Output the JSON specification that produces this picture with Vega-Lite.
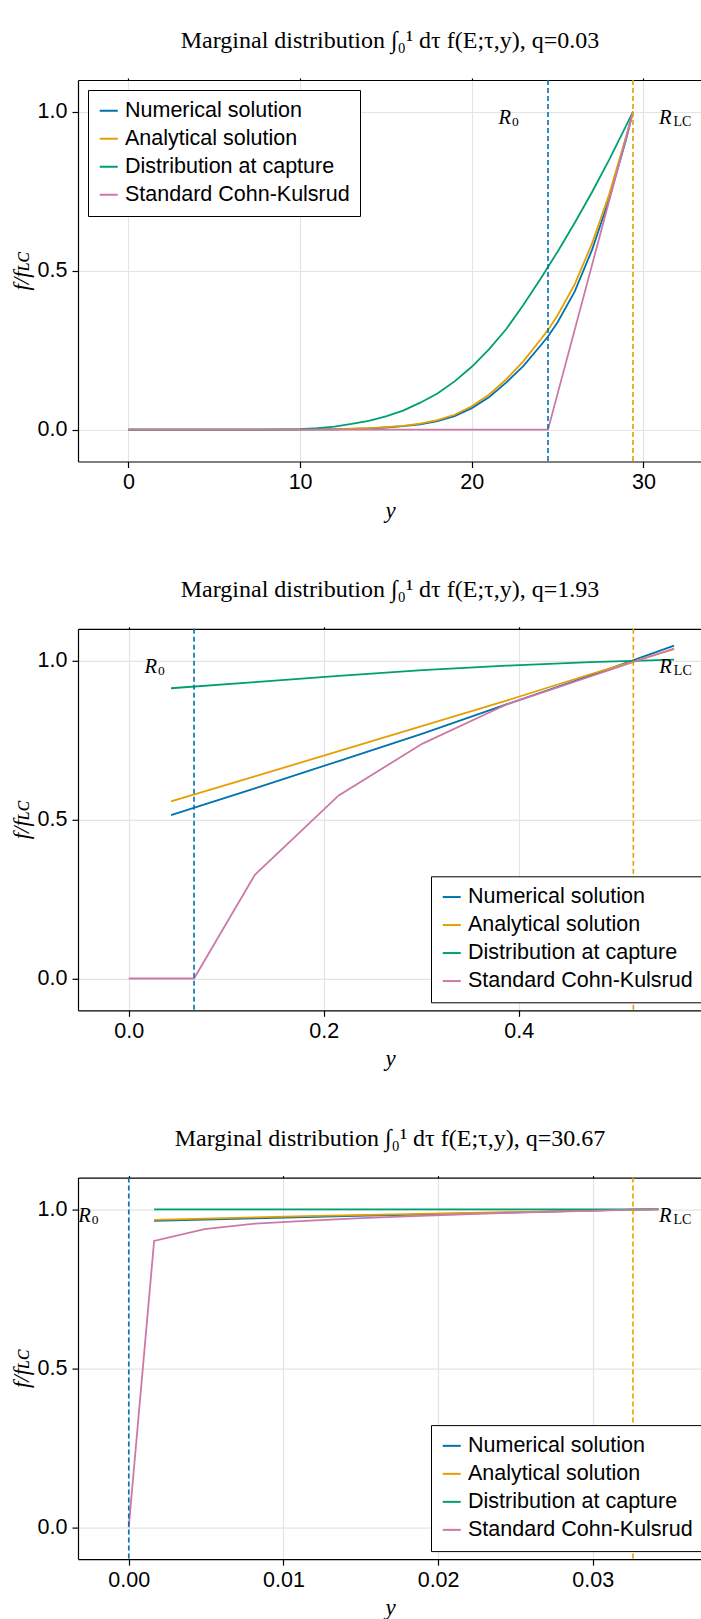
{
  "$schema": "https://vega.github.io/schema/vega-lite/v6.json",
  "background": "white",
  "autosize": {"type": "pad"},
  "padding": {"left": 10, "top": 29, "right": 0, "bottom": 0},
  "bounds": "flush",
  "spacing": 166.8,
  "datasets": {
    "c1": [
      {"series": "Numerical solution", "y": 0, "f": 0},
      {"series": "Numerical solution", "y": 4, "f": 0},
      {"series": "Numerical solution", "y": 8, "f": 0},
      {"series": "Numerical solution", "y": 10, "f": 0.0004},
      {"series": "Numerical solution", "y": 11, "f": 0.0008},
      {"series": "Numerical solution", "y": 12, "f": 0.0015},
      {"series": "Numerical solution", "y": 13, "f": 0.0025},
      {"series": "Numerical solution", "y": 14, "f": 0.004},
      {"series": "Numerical solution", "y": 15, "f": 0.007},
      {"series": "Numerical solution", "y": 16, "f": 0.011},
      {"series": "Numerical solution", "y": 17, "f": 0.017},
      {"series": "Numerical solution", "y": 18, "f": 0.027},
      {"series": "Numerical solution", "y": 19, "f": 0.043},
      {"series": "Numerical solution", "y": 20, "f": 0.068},
      {"series": "Numerical solution", "y": 21, "f": 0.102},
      {"series": "Numerical solution", "y": 22, "f": 0.148},
      {"series": "Numerical solution", "y": 23, "f": 0.2},
      {"series": "Numerical solution", "y": 24, "f": 0.264},
      {"series": "Numerical solution", "y": 24.44, "f": 0.293},
      {"series": "Numerical solution", "y": 25, "f": 0.338},
      {"series": "Numerical solution", "y": 26, "f": 0.435},
      {"series": "Numerical solution", "y": 27, "f": 0.565},
      {"series": "Numerical solution", "y": 28, "f": 0.725},
      {"series": "Numerical solution", "y": 29, "f": 0.915},
      {"series": "Numerical solution", "y": 29.39, "f": 1.0},
      {"series": "Analytical solution", "y": 0, "f": 0},
      {"series": "Analytical solution", "y": 4, "f": 0},
      {"series": "Analytical solution", "y": 8, "f": 0},
      {"series": "Analytical solution", "y": 10, "f": 0.0005},
      {"series": "Analytical solution", "y": 11, "f": 0.001},
      {"series": "Analytical solution", "y": 12, "f": 0.002},
      {"series": "Analytical solution", "y": 13, "f": 0.003},
      {"series": "Analytical solution", "y": 14, "f": 0.005},
      {"series": "Analytical solution", "y": 15, "f": 0.008},
      {"series": "Analytical solution", "y": 16, "f": 0.012},
      {"series": "Analytical solution", "y": 17, "f": 0.019},
      {"series": "Analytical solution", "y": 18, "f": 0.03},
      {"series": "Analytical solution", "y": 19, "f": 0.047},
      {"series": "Analytical solution", "y": 20, "f": 0.074},
      {"series": "Analytical solution", "y": 21, "f": 0.11},
      {"series": "Analytical solution", "y": 22, "f": 0.158},
      {"series": "Analytical solution", "y": 23, "f": 0.215},
      {"series": "Analytical solution", "y": 24, "f": 0.283},
      {"series": "Analytical solution", "y": 24.44, "f": 0.314},
      {"series": "Analytical solution", "y": 25, "f": 0.36},
      {"series": "Analytical solution", "y": 26, "f": 0.458},
      {"series": "Analytical solution", "y": 27, "f": 0.585},
      {"series": "Analytical solution", "y": 28, "f": 0.74},
      {"series": "Analytical solution", "y": 29, "f": 0.925},
      {"series": "Analytical solution", "y": 29.39, "f": 1.0},
      {"series": "Distribution at capture", "y": 0, "f": 0},
      {"series": "Distribution at capture", "y": 4, "f": 0},
      {"series": "Distribution at capture", "y": 8, "f": 0.0003},
      {"series": "Distribution at capture", "y": 10, "f": 0.002},
      {"series": "Distribution at capture", "y": 11, "f": 0.005},
      {"series": "Distribution at capture", "y": 12, "f": 0.01},
      {"series": "Distribution at capture", "y": 13, "f": 0.018},
      {"series": "Distribution at capture", "y": 14, "f": 0.028},
      {"series": "Distribution at capture", "y": 15, "f": 0.042},
      {"series": "Distribution at capture", "y": 16, "f": 0.06},
      {"series": "Distribution at capture", "y": 17, "f": 0.085},
      {"series": "Distribution at capture", "y": 18, "f": 0.114},
      {"series": "Distribution at capture", "y": 19, "f": 0.152},
      {"series": "Distribution at capture", "y": 20, "f": 0.198},
      {"series": "Distribution at capture", "y": 21, "f": 0.253},
      {"series": "Distribution at capture", "y": 22, "f": 0.316},
      {"series": "Distribution at capture", "y": 23, "f": 0.392},
      {"series": "Distribution at capture", "y": 24, "f": 0.474},
      {"series": "Distribution at capture", "y": 24.44, "f": 0.512},
      {"series": "Distribution at capture", "y": 25, "f": 0.56},
      {"series": "Distribution at capture", "y": 26, "f": 0.651},
      {"series": "Distribution at capture", "y": 27, "f": 0.747},
      {"series": "Distribution at capture", "y": 28, "f": 0.849},
      {"series": "Distribution at capture", "y": 29, "f": 0.957},
      {"series": "Distribution at capture", "y": 29.39, "f": 1.0},
      {"series": "Standard Cohn-Kulsrud", "y": 0, "f": 0},
      {"series": "Standard Cohn-Kulsrud", "y": 24.44, "f": 0},
      {"series": "Standard Cohn-Kulsrud", "y": 29.39, "f": 1.0}
    ],
    "c2": [
      {"series": "Numerical solution", "y": 0.0434, "f": 0.514},
      {"series": "Numerical solution", "y": 0.1294, "f": 0.598},
      {"series": "Numerical solution", "y": 0.2154, "f": 0.684},
      {"series": "Numerical solution", "y": 0.3014, "f": 0.77},
      {"series": "Numerical solution", "y": 0.3874, "f": 0.862},
      {"series": "Numerical solution", "y": 0.4734, "f": 0.953},
      {"series": "Numerical solution", "y": 0.5594, "f": 1.047},
      {"series": "Analytical solution", "y": 0.0434, "f": 0.557},
      {"series": "Analytical solution", "y": 0.1294, "f": 0.636},
      {"series": "Analytical solution", "y": 0.2154, "f": 0.715},
      {"series": "Analytical solution", "y": 0.3014, "f": 0.795},
      {"series": "Analytical solution", "y": 0.3874, "f": 0.874},
      {"series": "Analytical solution", "y": 0.4734, "f": 0.957},
      {"series": "Analytical solution", "y": 0.5594, "f": 1.036},
      {"series": "Distribution at capture", "y": 0.0434, "f": 0.913},
      {"series": "Distribution at capture", "y": 0.1294, "f": 0.932},
      {"series": "Distribution at capture", "y": 0.2154, "f": 0.952},
      {"series": "Distribution at capture", "y": 0.3014, "f": 0.97},
      {"series": "Distribution at capture", "y": 0.3874, "f": 0.984},
      {"series": "Distribution at capture", "y": 0.4734, "f": 0.995},
      {"series": "Distribution at capture", "y": 0.5594, "f": 1.003},
      {"series": "Standard Cohn-Kulsrud", "y": 0, "f": 0},
      {"series": "Standard Cohn-Kulsrud", "y": 0.0434, "f": 0},
      {"series": "Standard Cohn-Kulsrud", "y": 0.067, "f": 0},
      {"series": "Standard Cohn-Kulsrud", "y": 0.1294, "f": 0.326},
      {"series": "Standard Cohn-Kulsrud", "y": 0.2154, "f": 0.576},
      {"series": "Standard Cohn-Kulsrud", "y": 0.3014, "f": 0.739},
      {"series": "Standard Cohn-Kulsrud", "y": 0.3874, "f": 0.862},
      {"series": "Standard Cohn-Kulsrud", "y": 0.4734, "f": 0.95},
      {"series": "Standard Cohn-Kulsrud", "y": 0.5594, "f": 1.038}
    ],
    "c3": [
      {"series": "Numerical solution", "y": 0.00164, "f": 0.964},
      {"series": "Numerical solution", "y": 0.0049, "f": 0.968},
      {"series": "Numerical solution", "y": 0.00816, "f": 0.972},
      {"series": "Numerical solution", "y": 0.01142, "f": 0.976},
      {"series": "Numerical solution", "y": 0.01468, "f": 0.98},
      {"series": "Numerical solution", "y": 0.01794, "f": 0.983},
      {"series": "Numerical solution", "y": 0.0212, "f": 0.987},
      {"series": "Numerical solution", "y": 0.02446, "f": 0.99},
      {"series": "Numerical solution", "y": 0.02772, "f": 0.994},
      {"series": "Numerical solution", "y": 0.03098, "f": 0.998},
      {"series": "Numerical solution", "y": 0.03424, "f": 1.001},
      {"series": "Analytical solution", "y": 0.00164, "f": 0.967},
      {"series": "Analytical solution", "y": 0.0049, "f": 0.971},
      {"series": "Analytical solution", "y": 0.00816, "f": 0.975},
      {"series": "Analytical solution", "y": 0.01142, "f": 0.979},
      {"series": "Analytical solution", "y": 0.01468, "f": 0.982},
      {"series": "Analytical solution", "y": 0.01794, "f": 0.985},
      {"series": "Analytical solution", "y": 0.0212, "f": 0.988},
      {"series": "Analytical solution", "y": 0.02446, "f": 0.991},
      {"series": "Analytical solution", "y": 0.02772, "f": 0.994},
      {"series": "Analytical solution", "y": 0.03098, "f": 0.998},
      {"series": "Analytical solution", "y": 0.03424, "f": 1.0},
      {"series": "Distribution at capture", "y": 0.00164, "f": 1.0},
      {"series": "Distribution at capture", "y": 0.0049, "f": 1.0},
      {"series": "Distribution at capture", "y": 0.00816, "f": 1.0},
      {"series": "Distribution at capture", "y": 0.01142, "f": 1.0},
      {"series": "Distribution at capture", "y": 0.01468, "f": 1.0},
      {"series": "Distribution at capture", "y": 0.01794, "f": 1.0},
      {"series": "Distribution at capture", "y": 0.0212, "f": 1.0},
      {"series": "Distribution at capture", "y": 0.02446, "f": 1.0},
      {"series": "Distribution at capture", "y": 0.02772, "f": 1.0},
      {"series": "Distribution at capture", "y": 0.03098, "f": 1.0},
      {"series": "Distribution at capture", "y": 0.03424, "f": 1.0},
      {"series": "Standard Cohn-Kulsrud", "y": 0, "f": 0},
      {"series": "Standard Cohn-Kulsrud", "y": 0.00164, "f": 0.9006},
      {"series": "Standard Cohn-Kulsrud", "y": 0.0049, "f": 0.938},
      {"series": "Standard Cohn-Kulsrud", "y": 0.00816, "f": 0.955},
      {"series": "Standard Cohn-Kulsrud", "y": 0.01142, "f": 0.964},
      {"series": "Standard Cohn-Kulsrud", "y": 0.01468, "f": 0.972},
      {"series": "Standard Cohn-Kulsrud", "y": 0.01794, "f": 0.978},
      {"series": "Standard Cohn-Kulsrud", "y": 0.0212, "f": 0.984},
      {"series": "Standard Cohn-Kulsrud", "y": 0.02446, "f": 0.989},
      {"series": "Standard Cohn-Kulsrud", "y": 0.02772, "f": 0.993},
      {"series": "Standard Cohn-Kulsrud", "y": 0.03098, "f": 0.997},
      {"series": "Standard Cohn-Kulsrud", "y": 0.03424, "f": 1.001}
    ],
    "r1": [{"r": "R0", "y": 24.44}, {"r": "RLC", "y": 29.39}],
    "r2": [{"r": "R0", "y": 0.067}, {"r": "RLC", "y": 0.5176}],
    "r3": [{"r": "R0", "y": 0.0}, {"r": "RLC", "y": 0.0326}]
  },
  "vconcat": [
    {
      "width": 624,
      "height": 381.5,
      "title": {"text": "Marginal distribution ∫₀¹ dτ f(E;τ,y), q=0.03", "font": "Liberation Serif", "fontSize": 24, "fontWeight": "normal", "color": "black", "offset": 24.2},
      "layer": [
        {
          "data": {"name": "c1"},
          "mark": {"type": "line", "strokeWidth": 1.8, "clip": true},
          "encoding": {
            "x": {"field": "y", "type": "quantitative", "scale": {"domain": [-2.935, 33.41], "nice": false, "zero": false},
                  "axis": {"orient": "bottom", "values": [0, 10, 20, 30], "format": "d", "title": "y"}},
            "y": {"field": "f", "type": "quantitative", "scale": {"domain": [-0.1, 1.1], "nice": false, "zero": false},
                  "axis": {"orient": "left", "values": [0, 0.5, 1], "format": ".1f", "title": "f/fʟᴄ"}},
            "color": {"field": "series", "type": "nominal",
                      "scale": {"domain": ["Numerical solution", "Analytical solution", "Distribution at capture", "Standard Cohn-Kulsrud"], "range": ["#0072B2", "#E69F00", "#009E73", "#CC79A7"]},
                      "legend": {"orient": "top-left", "offset": 9.5}}
          }
        },
        {
          "data": {"name": "r1"},
          "mark": {"type": "rule", "strokeDash": [5, 3], "strokeWidth": 1.6},
          "encoding": {
            "x": {"field": "y", "type": "quantitative", "scale": {"domain": [-2.935, 33.41], "nice": false, "zero": false},
                  "axis": {"orient": "top", "values": [0, 10, 20, 30], "labels": false, "grid": false, "tickSize": 2, "title": null}},
            "stroke": {"field": "r", "type": "nominal", "scale": {"domain": ["R0", "RLC"], "range": ["#0072B2", "#E69F00"]}, "legend": null}
          }
        },
        {
          "data": {"name": "r1"},
          "transform": [{"filter": "datum.r === 'R0'"}],
          "mark": {"type": "text", "text": "R", "align": "left", "baseline": "alphabetic", "dx": -49.5, "dy": 12.5, "font": "Liberation Serif", "fontStyle": "italic", "fontSize": 20.5, "color": "black"},
          "encoding": {
            "x": {"field": "y", "type": "quantitative", "scale": {"domain": [-2.935, 33.41], "nice": false, "zero": false}, "axis": null},
            "y": {"datum": 1, "type": "quantitative", "scale": {"domain": [-0.1, 1.1], "nice": false, "zero": false}}
          }
        },
        {
          "data": {"name": "r1"},
          "transform": [{"filter": "datum.r === 'R0'"}],
          "mark": {"type": "text", "text": "0", "align": "left", "baseline": "alphabetic", "dx": -36, "dy": 14, "font": "Liberation Serif", "fontSize": 13.5, "color": "black"},
          "encoding": {
            "x": {"field": "y", "type": "quantitative", "scale": {"domain": [-2.935, 33.41], "nice": false, "zero": false}, "axis": null},
            "y": {"datum": 1, "type": "quantitative", "scale": {"domain": [-0.1, 1.1], "nice": false, "zero": false}}
          }
        },
        {
          "data": {"name": "r1"},
          "transform": [{"filter": "datum.r === 'RLC'"}],
          "mark": {"type": "text", "text": "R", "align": "left", "baseline": "alphabetic", "dx": 26, "dy": 12.5, "font": "Liberation Serif", "fontStyle": "italic", "fontSize": 20.5, "color": "black"},
          "encoding": {
            "x": {"field": "y", "type": "quantitative", "scale": {"domain": [-2.935, 33.41], "nice": false, "zero": false}, "axis": null},
            "y": {"datum": 1, "type": "quantitative", "scale": {"domain": [-0.1, 1.1], "nice": false, "zero": false}}
          }
        },
        {
          "data": {"name": "r1"},
          "transform": [{"filter": "datum.r === 'RLC'"}],
          "mark": {"type": "text", "text": "LC", "align": "left", "baseline": "alphabetic", "dx": 40.5, "dy": 14.3, "font": "Liberation Serif", "fontSize": 14, "color": "black"},
          "encoding": {
            "x": {"field": "y", "type": "quantitative", "scale": {"domain": [-2.935, 33.41], "nice": false, "zero": false}, "axis": null},
            "y": {"datum": 1, "type": "quantitative", "scale": {"domain": [-0.1, 1.1], "nice": false, "zero": false}}
          }
        }
      ],
      "resolve": {"axis": {"x": "independent"}}
    },
    {
      "width": 624,
      "height": 381.5,
      "title": {"text": "Marginal distribution ∫₀¹ dτ f(E;τ,y), q=1.93", "font": "Liberation Serif", "fontSize": 24, "fontWeight": "normal", "color": "black", "offset": 24.2},
      "layer": [
        {
          "data": {"name": "c2"},
          "mark": {"type": "line", "strokeWidth": 1.8, "clip": true},
          "encoding": {
            "x": {"field": "y", "type": "quantitative", "scale": {"domain": [-0.052, 0.588], "nice": false, "zero": false},
                  "axis": {"orient": "bottom", "values": [0, 0.2, 0.4], "format": ".1f", "title": "y"}},
            "y": {"field": "f", "type": "quantitative", "scale": {"domain": [-0.1, 1.1], "nice": false, "zero": false},
                  "axis": {"orient": "left", "values": [0, 0.5, 1], "format": ".1f", "title": "f/fʟᴄ"}},
            "color": {"field": "series", "type": "nominal",
                      "scale": {"domain": ["Numerical solution", "Analytical solution", "Distribution at capture", "Standard Cohn-Kulsrud"], "range": ["#0072B2", "#E69F00", "#009E73", "#CC79A7"]},
                      "legend": {"orient": "none", "legendX": 353, "legendY": 247.5}}
          }
        },
        {
          "data": {"name": "r2"},
          "mark": {"type": "rule", "strokeDash": [5, 3], "strokeWidth": 1.6},
          "encoding": {
            "x": {"field": "y", "type": "quantitative", "scale": {"domain": [-0.052, 0.588], "nice": false, "zero": false},
                  "axis": {"orient": "top", "values": [0, 0.2, 0.4], "labels": false, "grid": false, "tickSize": 2, "title": null}},
            "stroke": {"field": "r", "type": "nominal", "scale": {"domain": ["R0", "RLC"], "range": ["#0072B2", "#E69F00"]}, "legend": null}
          }
        },
        {
          "data": {"name": "r2"},
          "transform": [{"filter": "datum.r === 'R0'"}],
          "mark": {"type": "text", "text": "R", "align": "left", "baseline": "alphabetic", "dx": -49.5, "dy": 12.5, "font": "Liberation Serif", "fontStyle": "italic", "fontSize": 20.5, "color": "black"},
          "encoding": {
            "x": {"field": "y", "type": "quantitative", "scale": {"domain": [-0.052, 0.588], "nice": false, "zero": false}, "axis": null},
            "y": {"datum": 1, "type": "quantitative", "scale": {"domain": [-0.1, 1.1], "nice": false, "zero": false}}
          }
        },
        {
          "data": {"name": "r2"},
          "transform": [{"filter": "datum.r === 'R0'"}],
          "mark": {"type": "text", "text": "0", "align": "left", "baseline": "alphabetic", "dx": -36, "dy": 14, "font": "Liberation Serif", "fontSize": 13.5, "color": "black"},
          "encoding": {
            "x": {"field": "y", "type": "quantitative", "scale": {"domain": [-0.052, 0.588], "nice": false, "zero": false}, "axis": null},
            "y": {"datum": 1, "type": "quantitative", "scale": {"domain": [-0.1, 1.1], "nice": false, "zero": false}}
          }
        },
        {
          "data": {"name": "r2"},
          "transform": [{"filter": "datum.r === 'RLC'"}],
          "mark": {"type": "text", "text": "R", "align": "left", "baseline": "alphabetic", "dx": 26, "dy": 12.5, "font": "Liberation Serif", "fontStyle": "italic", "fontSize": 20.5, "color": "black"},
          "encoding": {
            "x": {"field": "y", "type": "quantitative", "scale": {"domain": [-0.052, 0.588], "nice": false, "zero": false}, "axis": null},
            "y": {"datum": 1, "type": "quantitative", "scale": {"domain": [-0.1, 1.1], "nice": false, "zero": false}}
          }
        },
        {
          "data": {"name": "r2"},
          "transform": [{"filter": "datum.r === 'RLC'"}],
          "mark": {"type": "text", "text": "LC", "align": "left", "baseline": "alphabetic", "dx": 40.5, "dy": 14.3, "font": "Liberation Serif", "fontSize": 14, "color": "black"},
          "encoding": {
            "x": {"field": "y", "type": "quantitative", "scale": {"domain": [-0.052, 0.588], "nice": false, "zero": false}, "axis": null},
            "y": {"datum": 1, "type": "quantitative", "scale": {"domain": [-0.1, 1.1], "nice": false, "zero": false}}
          }
        }
      ],
      "resolve": {"axis": {"x": "independent"}}
    },
    {
      "width": 624,
      "height": 381.5,
      "title": {"text": "Marginal distribution ∫₀¹ dτ f(E;τ,y), q=30.67", "font": "Liberation Serif", "fontSize": 24, "fontWeight": "normal", "color": "black", "offset": 24.2},
      "layer": [
        {
          "data": {"name": "c3"},
          "mark": {"type": "line", "strokeWidth": 1.8, "clip": true},
          "encoding": {
            "x": {"field": "y", "type": "quantitative", "scale": {"domain": [-0.00328, 0.03706], "nice": false, "zero": false},
                  "axis": {"orient": "bottom", "values": [0, 0.01, 0.02, 0.03], "format": ".2f", "title": "y"}},
            "y": {"field": "f", "type": "quantitative", "scale": {"domain": [-0.1, 1.1], "nice": false, "zero": false},
                  "axis": {"orient": "left", "values": [0, 0.5, 1], "format": ".1f", "title": "f/fʟᴄ"}},
            "color": {"field": "series", "type": "nominal",
                      "scale": {"domain": ["Numerical solution", "Analytical solution", "Distribution at capture", "Standard Cohn-Kulsrud"], "range": ["#0072B2", "#E69F00", "#009E73", "#CC79A7"]},
                      "legend": {"orient": "none", "legendX": 353, "legendY": 247.5}}
          }
        },
        {
          "data": {"name": "r3"},
          "mark": {"type": "rule", "strokeDash": [5, 3], "strokeWidth": 1.6},
          "encoding": {
            "x": {"field": "y", "type": "quantitative", "scale": {"domain": [-0.00328, 0.03706], "nice": false, "zero": false},
                  "axis": {"orient": "top", "values": [0, 0.01, 0.02, 0.03], "labels": false, "grid": false, "tickSize": 2, "title": null}},
            "stroke": {"field": "r", "type": "nominal", "scale": {"domain": ["R0", "RLC"], "range": ["#0072B2", "#E69F00"]}, "legend": null}
          }
        },
        {
          "data": {"name": "r3"},
          "transform": [{"filter": "datum.r === 'R0'"}],
          "mark": {"type": "text", "text": "R", "align": "left", "baseline": "alphabetic", "dx": -50.5, "dy": 13, "font": "Liberation Serif", "fontStyle": "italic", "fontSize": 20.5, "color": "black"},
          "encoding": {
            "x": {"field": "y", "type": "quantitative", "scale": {"domain": [-0.00328, 0.03706], "nice": false, "zero": false}, "axis": null},
            "y": {"datum": 1, "type": "quantitative", "scale": {"domain": [-0.1, 1.1], "nice": false, "zero": false}}
          }
        },
        {
          "data": {"name": "r3"},
          "transform": [{"filter": "datum.r === 'R0'"}],
          "mark": {"type": "text", "text": "0", "align": "left", "baseline": "alphabetic", "dx": -37, "dy": 14.5, "font": "Liberation Serif", "fontSize": 13.5, "color": "black"},
          "encoding": {
            "x": {"field": "y", "type": "quantitative", "scale": {"domain": [-0.00328, 0.03706], "nice": false, "zero": false}, "axis": null},
            "y": {"datum": 1, "type": "quantitative", "scale": {"domain": [-0.1, 1.1], "nice": false, "zero": false}}
          }
        },
        {
          "data": {"name": "r3"},
          "transform": [{"filter": "datum.r === 'RLC'"}],
          "mark": {"type": "text", "text": "R", "align": "left", "baseline": "alphabetic", "dx": 26, "dy": 12.5, "font": "Liberation Serif", "fontStyle": "italic", "fontSize": 20.5, "color": "black"},
          "encoding": {
            "x": {"field": "y", "type": "quantitative", "scale": {"domain": [-0.00328, 0.03706], "nice": false, "zero": false}, "axis": null},
            "y": {"datum": 1, "type": "quantitative", "scale": {"domain": [-0.1, 1.1], "nice": false, "zero": false}}
          }
        },
        {
          "data": {"name": "r3"},
          "transform": [{"filter": "datum.r === 'RLC'"}],
          "mark": {"type": "text", "text": "LC", "align": "left", "baseline": "alphabetic", "dx": 40.5, "dy": 14.3, "font": "Liberation Serif", "fontSize": 14, "color": "black"},
          "encoding": {
            "x": {"field": "y", "type": "quantitative", "scale": {"domain": [-0.00328, 0.03706], "nice": false, "zero": false}, "axis": null},
            "y": {"datum": 1, "type": "quantitative", "scale": {"domain": [-0.1, 1.1], "nice": false, "zero": false}}
          }
        }
      ],
      "resolve": {"axis": {"x": "independent"}}
    }
  ],
  "resolve": {"scale": {"color": "independent", "stroke": "independent"}, "legend": {"color": "independent"}},
  "config": {
    "view": {"stroke": null},
    "font": "Liberation Sans",
    "axis": {
      "labelFont": "Liberation Sans", "labelFontSize": 21.5, "labelColor": "black", "labelFlush": false, "labelPadding": 4,
      "domainColor": "black", "domainWidth": 1.2, "tickColor": "black", "tickWidth": 1.2, "tickSize": 6,
      "gridColor": "#e4e4e4", "gridWidth": 1.2,
      "titleFont": "Liberation Serif", "titleFontSize": 23, "titleFontStyle": "italic", "titleFontWeight": "normal", "titleColor": "black"
    },
    "axisX": {"titlePadding": 6},
    "axisY": {"titlePadding": 4, "labelPadding": 5},
    "legend": {
      "title": null, "fillColor": "white", "strokeColor": "black", "padding": 10,
      "symbolType": "stroke", "symbolSize": 324, "symbolStrokeWidth": 2,
      "labelFont": "Liberation Sans", "labelFontSize": 21.5, "labelColor": "black",
      "labelOffset": 5.5, "rowPadding": 5, "labelLimit": 400
    },
    "style": {"group-title": {"font": "Liberation Serif", "fontSize": 24, "fontWeight": "normal", "color": "black"}},
    "title": {"font": "Liberation Serif", "fontSize": 24, "fontWeight": "normal", "color": "black", "anchor": "middle", "baseline": "alphabetic", "offset": 24.2}
  }
}
